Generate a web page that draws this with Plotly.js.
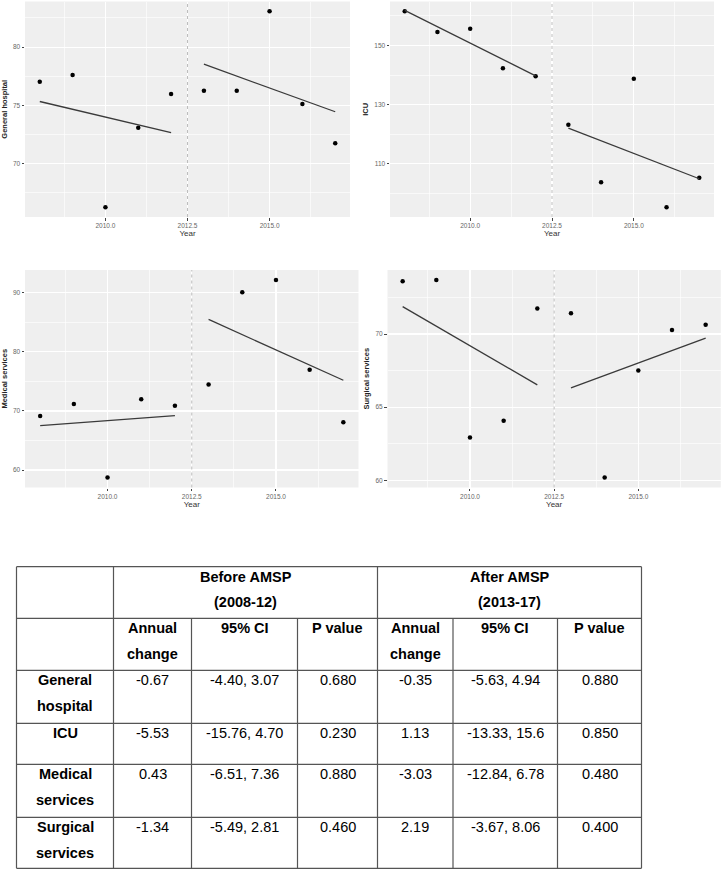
<!DOCTYPE html>
<html>
<head>
<meta charset="utf-8">
<script src="https://cdn.plot.ly/plotly-3.0.1.min.js"></script>
<style>html,body{margin:0;padding:0;background:#fff;}#chart{width:721px;height:870px;}</style>
</head>
<body>
<div id="chart"></div>
<script>
// ---------- data ----------
var years = [2008, 2009, 2010, 2011, 2012, 2013, 2014, 2015, 2016, 2017];
var generalHospital = [77.03, 77.6, 66.26, 73.07, 75.97, 76.26, 76.26, 83.07, 75.11, 71.74];
var icu = [161.5, 154.5, 155.6, 142.3, 139.6, 123.2, 103.8, 138.7, 95.4, 105.3];
var medicalServices = [69.16, 71.18, 58.71, 71.97, 70.9, 74.5, 90.1, 92.2, 77.0, 68.1];
var surgicalServices = [73.6, 73.7, 62.93, 64.06, 71.75, 71.42, 60.18, 67.5, 70.28, 70.64];

var preYears = [2008, 2012];
var postYears = [2013, 2017];
var ghFitPre = [75.33, 72.65], ghFitPost = [78.53, 74.45];
var icuFitPre = [161.8, 139.7], icuFitPost = [122.1, 105.0];
var medFitPre = [67.5, 69.2], medFitPost = [85.5, 75.2];
var surFitPre = [71.87, 66.52], surFitPost = [66.31, 69.72];
var interventionYear = 2012.5;

var panelNames = ['General hospital', 'ICU', 'Medical services', 'Surgical services'];

var tableGroups = ['Before AMSP<br>(2008-12)', 'After AMSP<br>(2013-17)'];
var tableColumns = ['Annual<br>change', '95% CI', 'P value'];
var tableRows = ['General<br>hospital', 'ICU', 'Medical<br>services', 'Surgical<br>services'];
var annualBefore = ['-0.67', '-5.53', '0.43', '-1.34'];
var ciBefore = ['-4.40, 3.07', '-15.76, 4.70', '-6.51, 7.36', '-5.49, 2.81'];
var pBefore = ['0.680', '0.230', '0.880', '0.460'];
var annualAfter = ['-0.35', '1.13', '-3.03', '2.19'];
var ciAfter = ['-5.63, 4.94', '-13.33, 15.6', '-12.84, 6.78', '-3.67, 8.06'];
var pAfter = ['0.880', '0.850', '0.480', '0.400'];

// ---------- layout helpers ----------
var W = 721, H = 870;
function px(x) { return x / W; }
function py(y) { return 1 - y / H; }
var FONT = 'Liberation Sans, Arial, sans-serif';

var panels = [
  {vals: generalHospital, pre: ghFitPre, post: ghFitPost, x: [25, 350], y: [1.5, 217], dtick: 5, tick0: 0},
  {vals: icu, pre: icuFitPre, post: icuFitPost, x: [390, 714], y: [1.5, 217], dtick: 20, tick0: 10},
  {vals: medicalServices, pre: medFitPre, post: medFitPost, x: [25, 358.5], y: [270, 487.5], dtick: 10, tick0: 0},
  {vals: surgicalServices, pre: surFitPre, post: surFitPost, x: [387.5, 720.8], y: [270, 487.5], dtick: 5, tick0: 0}
];

var data = [];
var layout = {
  width: W, height: H,
  margin: {l: 0, r: 0, t: 0, b: 0},
  paper_bgcolor: '#ffffff',
  plot_bgcolor: '#efefef',
  showlegend: false,
  font: {family: FONT},
  shapes: [],
  annotations: []
};

panels.forEach(function (p, i) {
  var n = i === 0 ? '' : String(i + 1);
  var xa = 'x' + n, ya = 'y' + n;
  var lo = Math.min.apply(null, p.vals), hi = Math.max.apply(null, p.vals);
  var ex = (hi - lo) * 0.05;
  var xmin = years[0], xmax = years[years.length - 1], xex = (xmax - xmin) * 0.05;

  data.push({type: 'scatter', mode: 'markers', x: years, y: p.vals, xaxis: xa, yaxis: ya,
    marker: {color: '#000000', size: 4.5}, hoverinfo: 'skip'});
  data.push({type: 'scatter', mode: 'lines', x: preYears, y: p.pre, xaxis: xa, yaxis: ya,
    line: {color: '#3a3a3a', width: 1.3}, hoverinfo: 'skip'});
  data.push({type: 'scatter', mode: 'lines', x: postYears, y: p.post, xaxis: xa, yaxis: ya,
    line: {color: '#3a3a3a', width: 1.3}, hoverinfo: 'skip'});

  layout['xaxis' + n] = {
    domain: [px(p.x[0]), px(p.x[1])], anchor: ya,
    range: [xmin - xex, xmax + xex],
    tickmode: 'linear', tick0: 2010, dtick: 2.5, tickformat: '.1f',
    ticks: 'outside', ticklen: 2.5, tickwidth: 1, tickcolor: '#444',
    tickfont: {family: FONT, size: 6.5, color: '#666'},
    showgrid: true, gridcolor: '#ffffff', gridwidth: 1.1,
    minor: {dtick: 1.25, tick0: 2010, showgrid: true, gridcolor: '#ffffff', gridwidth: 0.6, ticks: ''},
    zeroline: false, showline: false,
    title: {text: 'Year', font: {family: FONT, size: 8, color: '#333'}, standoff: 2}
  };
  layout['yaxis' + n] = {
    domain: [py(p.y[1]), py(p.y[0])], anchor: xa,
    range: [lo - ex, hi + ex],
    tickmode: 'linear', tick0: p.tick0, dtick: p.dtick,
    ticks: 'outside', ticklen: 2.5, tickwidth: 1, tickcolor: '#444',
    tickfont: {family: FONT, size: 6.5, color: '#666'},
    showgrid: true, gridcolor: '#ffffff', gridwidth: 1.1,
    minor: {dtick: p.dtick / 2, tick0: p.tick0, showgrid: true, gridcolor: '#ffffff', gridwidth: 0.6, ticks: ''},
    zeroline: false, showline: false,
    title: {text: '<b>' + panelNames[i] + '</b>', font: {family: FONT, size: 7.5, color: '#222'}, standoff: 4}
  };
  // intervention line
  layout.shapes.push({type: 'line', xref: xa, yref: ya + ' domain', x0: interventionYear, x1: interventionYear,
    y0: 0, y1: 1, line: {color: '#bdbdbd', width: 1, dash: '3px,3px'}, layer: 'above'});
});

// ---------- table ----------
var colX = [16.5, 113.5, 191.5, 297.5, 377.5, 453, 557.5, 641.5];
var rowY = [566.7, 618.3, 670.3, 723.3, 764.3, 817.3, 868.3];
var lineColor = '#555555';

function hline(y, x0, x1, w) {
  layout.shapes.push({type: 'line', xref: 'paper', yref: 'paper', x0: px(x0), x1: px(x1), y0: py(y), y1: py(y),
    line: {color: lineColor, width: w || 1.2}, layer: 'above'});
}
function vline(x, y0, y1) {
  layout.shapes.push({type: 'line', xref: 'paper', yref: 'paper', x0: px(x), x1: px(x), y0: py(y0), y1: py(y1),
    line: {color: lineColor, width: 1.2}, layer: 'above'});
}
rowY.forEach(function (y) { hline(y, colX[0], colX[7]); });
[0, 1, 4, 7].forEach(function (c) { vline(colX[c], rowY[0], rowY[6]); });
[2, 3, 5, 6].forEach(function (c) { vline(colX[c], rowY[1], rowY[6]); });

function cellText(txt, xc, topY, bold) {
  txt.split('<br>').forEach(function (line, k) {
    layout.annotations.push({xref: 'paper', yref: 'paper', x: px(xc), y: py(topY + 10 + k * 25.5),
      xanchor: 'center', yanchor: 'middle', showarrow: false,
      text: bold ? '<b>' + line + '</b>' : line,
      font: {family: FONT, size: 14.5, color: '#000'}});
  });
}
function mid(a, b) { return (colX[a] + colX[b]) / 2; }

cellText(tableGroups[0], mid(1, 4), rowY[0], true);
cellText(tableGroups[1], mid(4, 7), rowY[0], true);
tableColumns.forEach(function (c, k) {
  cellText(c, mid(1 + k, 2 + k), rowY[1], true);
  cellText(c, mid(4 + k, 5 + k), rowY[1], true);
});
tableRows.forEach(function (r, j) {
  var top = rowY[2 + j];
  cellText(r, mid(0, 1), top, true);
  cellText(annualBefore[j], mid(1, 2), top, false);
  cellText(ciBefore[j], mid(2, 3), top, false);
  cellText(pBefore[j], mid(3, 4), top, false);
  cellText(annualAfter[j], mid(4, 5), top, false);
  cellText(ciAfter[j], mid(5, 6), top, false);
  cellText(pAfter[j], mid(6, 7), top, false);
});

Plotly.newPlot('chart', data, layout, {staticPlot: true, displayModeBar: false});
</script>
</body>
</html>
